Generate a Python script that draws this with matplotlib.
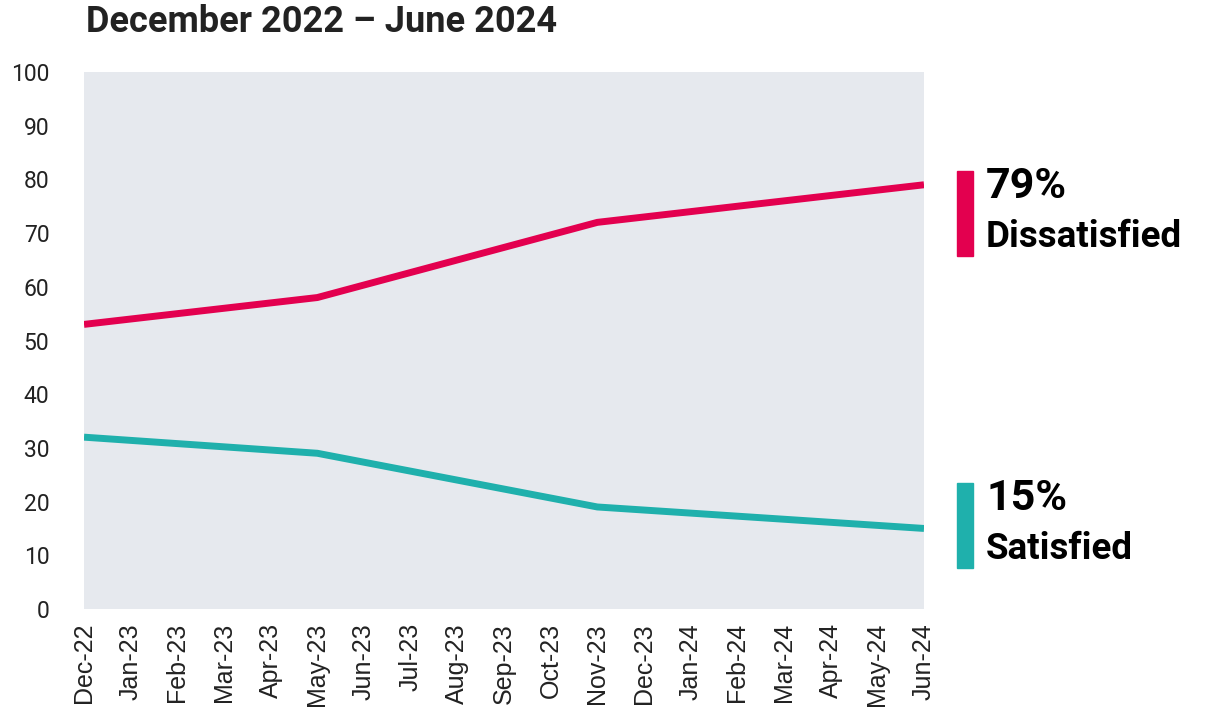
import matplotlib.pyplot as plt
from matplotlib.patches import Rectangle

# months along the x axis
months = ['Dec-22', 'Jan-23', 'Feb-23', 'Mar-23', 'Apr-23', 'May-23', 'Jun-23',
          'Jul-23', 'Aug-23', 'Sep-23', 'Oct-23', 'Nov-23', 'Dec-23', 'Jan-24',
          'Feb-24', 'Mar-24', 'Apr-24', 'May-24', 'Jun-24']

# survey waves (only these months have data)
survey_months = ['Dec-22', 'May-23', 'Nov-23', 'Jun-24']
dissatisfied = [53, 58, 72, 79]
satisfied = [32, 29, 19, 15]

pink = '#E3004F'
teal = '#1FB0AC'
txt = '#222222'

plt.rcParams['font.family'] = ['Roboto', 'DejaVu Sans']

fig = plt.figure(figsize=(12.11, 7.12), dpi=100)
ax = fig.add_axes([84/1211, 1 - 609/712, 840/1211, 537/712])
ax.set_facecolor('#E6E9EE')

xs = [months.index(m) for m in survey_months]
ax.plot(xs, dissatisfied, color=pink, lw=5, solid_capstyle='butt')
ax.plot(xs, satisfied, color=teal, lw=5, solid_capstyle='butt')

ax.set_xlim(0, len(months) - 1)
ax.set_ylim(0, 100)
ax.set_yticks(range(0, 101, 10))
ax.set_xticks(range(len(months)))
ax.set_xticklabels(months, rotation=90, fontsize=18, color=txt,
                   family=['Liberation Sans', 'DejaVu Sans'])
ax.tick_params(axis='y', labelsize=16.5, labelcolor=txt, length=0, pad=25)
ax.tick_params(axis='x', length=0, pad=10)
for s in ax.spines.values():
    s.set_visible(False)

fig.text(86/1211, 1 - 22/712, 'December 2022 – June 2024', fontsize=26,
         fontweight='bold', color=txt, va='center', ha='left')

# end labels
ax.add_patch(Rectangle((957/1211, 1 - 256/712), 16/1211, 85/712,
                       transform=fig.transFigure, color=pink, clip_on=False))
ax.add_patch(Rectangle((957/1211, 1 - 568/712), 16/1211, 85/712,
                       transform=fig.transFigure, color=teal, clip_on=False))
fig.text(986/1211, 1 - 186/712, f'{dissatisfied[-1]}%', fontsize=31,
         fontweight='bold', color='black', va='center')
fig.text(986/1211, 1 - 237/712, 'Dissatisfied', fontsize=26.5,
         fontweight='bold', color='black', va='center')
fig.text(986/1211, 1 - 498/712, f'{satisfied[-1]}%', fontsize=31,
         fontweight='bold', color='black', va='center')
fig.text(986/1211, 1 - 549/712, 'Satisfied', fontsize=26.5,
         fontweight='bold', color='black', va='center')

fig.savefig('out.png', dpi=100, facecolor='white')
